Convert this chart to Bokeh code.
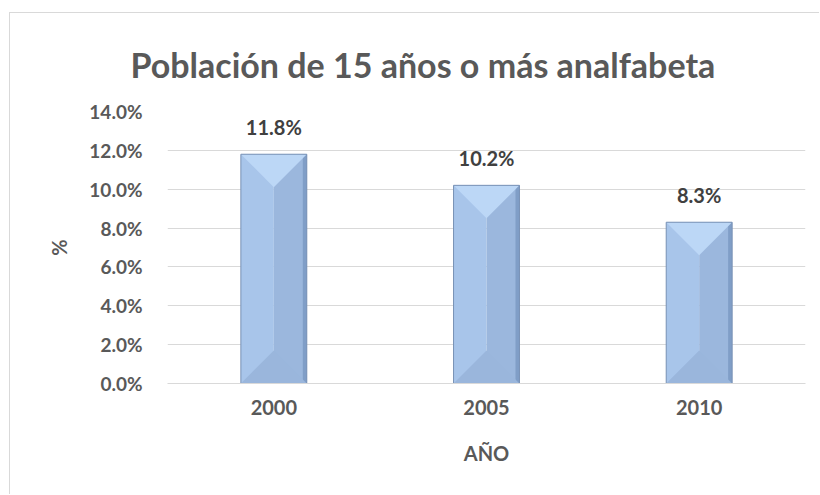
from bokeh.plotting import figure
from bokeh.models import Range1d, FixedTicker, Title, ColumnDataSource
from bokeh.core.properties import value
from bokeh.embed import file_html
from bokeh.resources import INLINE

# ---- data ----
years = ["2000", "2005", "2010"]
values = [11.8, 10.2, 8.3]
labels = ["11.8%", "10.2%", "8.3%"]
y_ticks = [0, 2, 4, 6, 8, 10, 12, 14]
y_tick_labels = ["0.0%", "2.0%", "4.0%", "6.0%", "8.0%", "10.0%", "12.0%", "14.0%"]

FONT = "Lato"
W, H = 810, 482
ML, MR, MT, MB = 157, 15, 98, 112
FW, FH = W - ML - MR, H - MT - MB
YMAX = 14
BAR_W = 0.31

p = figure(width=W, height=H, output_backend="svg", toolbar_location=None,
           x_range=Range1d(0, len(years)), y_range=Range1d(0, YMAX),
           min_border_left=ML, min_border_right=MR, min_border_top=MT, min_border_bottom=MB,
           background_fill_color="white", border_fill_color="white",
           outline_line_color=None)
p.margin = (12, 0, 0, 9)
p.styles = {"border-left": "1px solid #d9d9d9", "border-top": "1px solid #d9d9d9"}

t = Title(text="Población de 15 años o más analfabeta", align="left",
          text_font=FONT, text_font_size="34px", text_font_style="bold",
          text_color="#595959", offset=-37, standoff=54)
p.add_layout(t, "above")

# axes
p.xaxis.ticker = FixedTicker(ticks=[i + 0.5 for i in range(len(years))])
p.xaxis.major_label_overrides = {i + 0.5: y for i, y in enumerate(years)}
p.yaxis.ticker = FixedTicker(ticks=y_ticks)
p.yaxis.major_label_overrides = {v: l for v, l in zip(y_ticks, y_tick_labels)}
for ax in (p.xaxis, p.yaxis):
    ax.major_tick_line_color = None
    ax.minor_tick_line_color = None
    ax.major_tick_out = 0
    ax.major_tick_in = 0
    ax.major_label_text_font = FONT
    ax.major_label_text_font_style = "bold"
    ax.major_label_text_font_size = "19px"
    ax.major_label_text_color = "#595959"
    ax.axis_label_text_font = FONT
    ax.axis_label_text_font_style = "bold"
    ax.axis_label_text_font_size = "20px"
    ax.axis_label_text_color = "#595959"
p.xaxis.major_label_text_font_size = "20px"
p.yaxis.axis_line_color = None
p.xaxis.axis_line_color = "#d9d9d9"
p.yaxis.major_label_standoff = 25
p.xaxis.major_label_standoff = 16
p.yaxis.axis_label = "%"
p.xaxis.axis_label = "AÑO"
p.yaxis.axis_label_standoff = 15
p.xaxis.axis_label_standoff = 23
p.xgrid.grid_line_color = None
p.ygrid.grid_line_color = "#d9d9d9"
p.ygrid.ticker = FixedTicker(ticks=y_ticks)

# bevelled bars
half = BAR_W / 2
bevel = half * (FW / len(years)) / (FH / YMAX)
edge = 4 / (FW / len(years))
cx = [i + 0.5 for i in range(len(years))]
L = [c - half for c in cx]
R = [c + half for c in cx]
C = cx
zeros = [0] * len(values)

p.quad(left=L, right=C, bottom=zeros, top=values, fill_color="#a8c5ea", line_color=None)
p.quad(left=C, right=R, bottom=zeros, top=values, fill_color="#9bb7dd", line_color=None)
p.quad(left=[r - edge for r in R], right=R, bottom=zeros, top=values, fill_color="#809ec7", line_color=None)
p.patches(xs=[[l, r, c] for l, r, c in zip(L, R, C)],
          ys=[[v, v, v - bevel] for v in values],
          fill_color="#bcd7f6", line_color=None)
p.patches(xs=[[l, r, c] for l, r, c in zip(L, R, C)],
          ys=[[0, 0, bevel] for _ in values],
          fill_color="#9ab6dc", line_color=None)
p.quad(left=L, right=R, bottom=zeros, top=values, fill_color=None,
       line_color="#7891b5", line_width=1)

src = ColumnDataSource(dict(x=cx, y=values, t=labels))
p.text(x="x", y="y", text="t", source=src, y_offset=-27, text_align="center",
       text_baseline="middle", text_font=value(FONT), text_font_style="bold",
       text_font_size="20px", text_color="#404040")

open("out.html", "w").write(file_html(p, INLINE))
